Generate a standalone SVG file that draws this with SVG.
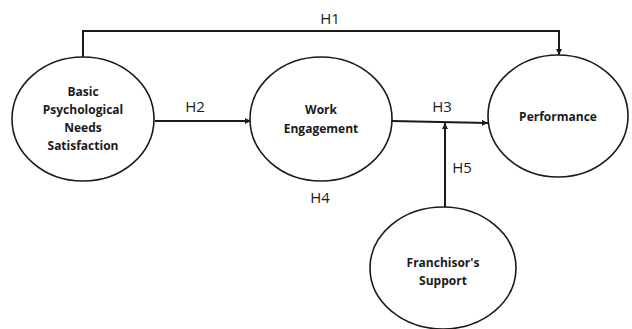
<svg xmlns="http://www.w3.org/2000/svg" width="632" height="329" viewBox="0 0 632 329">
<style>
.node{fill:#fff;stroke:#1a1a1a;stroke-width:1.6}
.nt{font-family:"Open Sans","Liberation Sans",sans-serif;font-weight:700;font-size:12px;fill:#1a1a1a;text-anchor:middle}
.lb{font-family:"Open Sans","Liberation Sans",sans-serif;font-size:15px;fill:#1a1a1a;text-anchor:middle}
.c{fill:none;stroke:#1a1a1a;stroke-width:2}
</style>
<defs>
<marker id="ah" viewBox="0 0 10 10" refX="10" refY="5" markerWidth="6" markerHeight="6" markerUnits="userSpaceOnUse" orient="auto">
<path d="M0,0 L10,5 L0,10 z" fill="#1a1a1a"/>
</marker>
</defs>
<rect width="632" height="329" fill="#fff"/>
<g id="connectors">
<path class="c" d="M83,57 V31 H559 V55" marker-end="url(#ah)"/>
<path class="c" d="M155,121 H251" marker-end="url(#ah)"/>
<path class="c" d="M392,121 L488,123" marker-end="url(#ah)"/>
<path class="c" d="M445,207 V123" marker-end="url(#ah)"/>
</g>
<g id="labels">
<text class="lb" x="330" y="24">H1</text>
<text class="lb" x="195" y="112">H2</text>
<text class="lb" x="442" y="112">H3</text>
<text class="lb" x="320" y="203">H4</text>
<text class="lb" x="462" y="173">H5</text>
</g>
<g id="basic">
<ellipse class="node" cx="83" cy="119" rx="71" ry="62"/>
<text class="nt" x="83" y="96">Basic</text>
<text class="nt" x="83" y="114">Psychological</text>
<text class="nt" x="83" y="132">Needs</text>
<text class="nt" x="83" y="150">Satisfaction</text>
</g>
<g id="work">
<ellipse class="node" cx="321" cy="119" rx="71" ry="62"/>
<text class="nt" x="321" y="114">Work</text>
<text class="nt" x="321" y="133">Engagement</text>
</g>
<g id="performance">
<ellipse class="node" cx="558" cy="116" rx="70" ry="61"/>
<text class="nt" x="558" y="121">Performance</text>
</g>
<g id="franchisor">
<ellipse class="node" cx="443" cy="268" rx="73" ry="61"/>
<text class="nt" x="443" y="267">Franchisor's</text>
<text class="nt" x="443" y="285">Support</text>
</g>
</svg>
